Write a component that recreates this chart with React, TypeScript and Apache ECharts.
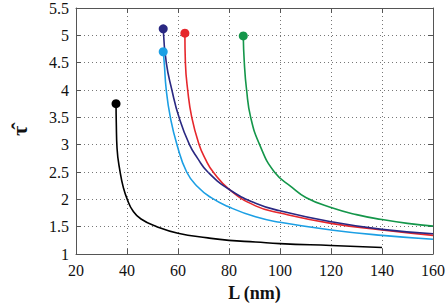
import React, { useEffect, useRef } from "react";
import * as echarts from "echarts";

const xTicks = { min: 20, max: 160, interval: 20 };
const yTicks = { min: 1, max: 5.5, interval: 0.5 };

const blackCurve: [number, number][] = [
  [35.7, 3.75], [35.8, 3.4], [36.1, 2.93], [37.3, 2.5], [38.6, 2.21], [40.1, 2.0], [42.3, 1.79],
  [45.5, 1.64], [51.7, 1.5], [60, 1.38], [71.7, 1.295], [80, 1.25], [90.4, 1.22], [100, 1.19],
  [120, 1.155], [140, 1.12],
];
const lightBlueCurve: [number, number][] = [
  [54.2, 4.7], [54.6, 4.5], [55.4, 4.0], [57.0, 3.5], [59.6, 3.0], [63.4, 2.5], [67.7, 2.23],
  [73, 2.03], [80, 1.86], [90.4, 1.68], [100, 1.58], [120, 1.44], [140, 1.34], [160, 1.27],
];
const darkBlueCurve: [number, number][] = [
  [54.2, 5.12], [55.4, 4.5], [57.6, 4.0], [60.4, 3.5], [64.5, 3.0], [67.7, 2.75], [71.7, 2.5],
  [80.4, 2.17], [90.4, 1.93], [100, 1.79], [120, 1.59], [140, 1.45], [160, 1.37],
];
const redCurve: [number, number][] = [
  [62.7, 5.04], [62.9, 4.5], [63.8, 4.0], [65.4, 3.5], [68.3, 3.0], [70.6, 2.75], [73.8, 2.5],
  [80.4, 2.17], [90.4, 1.88], [100, 1.75], [120, 1.56], [140, 1.44], [160, 1.34],
];
const greenCurve: [number, number][] = [
  [85.6, 4.99], [86.0, 4.5], [86.9, 4.0], [88.5, 3.5], [92.0, 3.0], [97.8, 2.5],
  [104.7, 2.22], [110.3, 2.03], [120, 1.85], [130, 1.72], [140, 1.63], [150, 1.56], [160, 1.51],
];

const curves = [
  { name: "black", data: blackCurve, color: "#000000" },
  { name: "lightblue", data: lightBlueCurve, color: "#1c9fe4" },
  { name: "green", data: greenCurve, color: "#14964a" },
  { name: "red", data: redCurve, color: "#e6272c" },
  { name: "darkblue", data: darkBlueCurve, color: "#2a2882" },
];

const FONT = "'Liberation Serif', 'DejaVu Serif', serif";

export default function App() {
  const ref = useRef<HTMLDivElement>(null);
  useEffect(() => {
    if (!ref.current) return;
    const chart = echarts.init(ref.current, null, { renderer: "svg" });
    const axisLine = { show: true, lineStyle: { color: "#555", width: 1 } };
    const tick = { show: true, inside: true, length: 5, lineStyle: { color: "#555" } };
    const split = { show: true, lineStyle: { color: "#777", type: [1, 3] as any, width: 1 } };
    chart.setOption({
      animation: false,
      grid: { left: 62, right: 12, top: 8, bottom: 50, containLabel: false },
      xAxis: [
        {
          type: "value",
          ...xTicks,
          name: "L (nm)",
          nameLocation: "middle",
          nameGap: 30,
          nameTextStyle: { fontFamily: FONT, fontWeight: "bold", fontSize: 18, color: "#111" },
          axisLine,
          axisTick: tick,
          splitLine: split,
          axisLabel: { fontFamily: FONT, fontSize: 16, color: "#111", margin: 8 },
        },
        {
          type: "value",
          position: "top",
          ...xTicks,
          axisLine,
          axisTick: tick,
          splitLine: { show: false },
          axisLabel: { show: false },
        },
      ],
      yAxis: [
        {
          type: "value",
          ...yTicks,
          name: "τ\u0302",
          nameLocation: "middle",
          nameRotate: 90,
          nameGap: 46,
          nameTextStyle: { fontFamily: FONT, fontWeight: "bold", fontSize: 22, color: "#111" },
          axisLine,
          axisTick: tick,
          splitLine: split,
          axisLabel: { fontFamily: FONT, fontSize: 16, color: "#111", margin: 7 },
        },
        {
          type: "value",
          position: "right",
          ...yTicks,
          axisLine,
          axisTick: tick,
          splitLine: { show: false },
          axisLabel: { show: false },
        },
      ],
      series: curves.map((c) => ({
        type: "line",
        name: c.name,
        data: c.data,
        smooth: 0.5,
        showSymbol: true,
        symbol: "circle",
        symbolSize: (_v: any, p: any) => (p.dataIndex === 0 ? 9 : 0),
        itemStyle: { color: c.color },
        lineStyle: { color: c.color, width: 1.6 },
        emphasis: { disabled: true },
      })),
    });
    return () => chart.dispose();
  }, []);
  return (
    <div
      ref={ref}
      style={{ position: "fixed", left: 0, top: 0, width: 448, height: 307, background: "#fff" }}
    />
  );
}
